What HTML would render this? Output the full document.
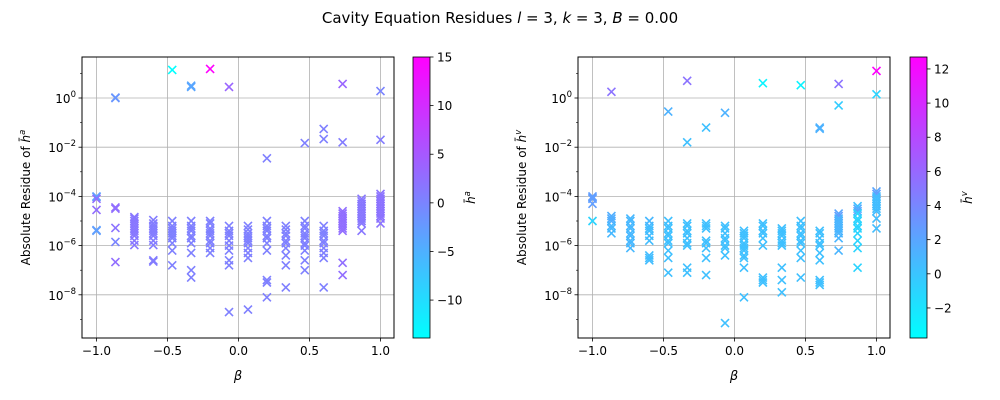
<!DOCTYPE html>
<html><head><meta charset="utf-8">
<style>
html,body{margin:0;padding:0;background:#fff;}
svg{display:block;font-family:"DejaVu Sans","Liberation Sans",sans-serif;}
</style></head>
<body>
<svg id="fig" width="1000" height="400" viewBox="0 0 1000 400">
<text x="500" y="23" text-anchor="middle" font-size="15">Cavity Equation Residues <tspan font-style="italic">l</tspan> = 3, <tspan font-style="italic">k</tspan> = 3, <tspan font-style="italic">B</tspan> = 0.00</text>
</svg>
<script>
const betaValues = [-1,-0.8667,-0.7333,-0.6,-0.4667,-0.3333,-0.2,-0.0667,0.0667,0.2,0.3333,0.4667,0.6,0.7333,0.8667,1];

const leftCols = [
 [-4.0,-4.02,-4.1,-4.55,-5.37,-5.4],
 [0.0,0.02,-4.45,-4.5,-5.28,-5.85,-6.67],
 [-4.84,-4.9,-5.0,-5.1,-5.2,-5.3,-5.4,-5.5,-5.6,-5.8,-5.98],
 [-4.96,-5.1,-5.2,-5.3,-5.4,-5.5,-5.6,-5.8,-5.98,-6.6,-6.65],
 [1.14,-5.0,-5.2,-5.3,-5.4,-5.5,-5.6,-5.7,-5.9,-6.2,-6.8],
 [0.45,0.5,-5.0,-5.2,-5.3,-5.4,-5.6,-5.7,-5.9,-6.3,-7.0,-7.3],
 [1.18,-5.0,-5.1,-5.3,-5.4,-5.5,-5.6,-5.8,-5.9,-6.1,-6.3],
 [0.45,-5.2,-5.4,-5.5,-5.6,-5.8,-6.0,-6.2,-6.6,-6.8,-8.7],
 [-5.2,-5.35,-5.5,-5.6,-5.7,-5.8,-5.9,-6.1,-6.3,-6.5,-8.6],
 [-2.45,-5.0,-5.2,-5.3,-5.4,-5.6,-5.7,-5.9,-6.2,-7.4,-7.5,-8.1],
 [-5.2,-5.35,-5.5,-5.6,-5.8,-5.9,-6.1,-6.4,-6.8,-7.7],
 [-1.83,-5.0,-5.2,-5.3,-5.5,-5.6,-5.7,-5.9,-6.0,-6.2,-6.6,-7.0],
 [-1.26,-1.67,-5.2,-5.4,-5.5,-5.6,-5.8,-5.9,-6.1,-6.3,-6.5,-7.7],
 [0.57,-1.8,-4.6,-4.7,-4.8,-4.9,-5.0,-5.1,-5.2,-5.3,-5.4,-6.7,-7.2],
 [-4.1,-4.2,-4.3,-4.4,-4.5,-4.6,-4.7,-4.8,-4.9,-5.0,-5.1,-5.4],
 [0.28,-1.7,-3.9,-4.0,-4.1,-4.2,-4.3,-4.4,-4.5,-4.6,-4.7,-4.8,-4.9,-5.1]
];
const leftColours = [
 [-3,-3,2.5,2.5,-3,-3],[-2,-2,2.5,2.5,2,0,2.5],[1.5],[1],[-13.9,0.5],[-3.8,-3.8,0.5],[15,0.5],[3.5,0.5],[0.5],[0.5],[0.5],[0.5],[0.5],[3.5,1,2.5],[1.5],[0,1,2]
];

const rightCols = [
 [-4.0,-4.05,-4.1,-4.3,-5.0],
 [0.25,-4.8,-4.9,-5.0,-5.2,-5.3,-5.5],
 [-4.9,-5.0,-5.2,-5.3,-5.5,-5.6,-5.8,-5.9,-6.1],
 [-5.0,-5.2,-5.3,-5.4,-5.6,-5.8,-6.4,-6.5,-6.6],
 [-0.55,-5.0,-5.2,-5.3,-5.5,-5.6,-5.8,-5.9,-6.2,-6.5,-7.1],
 [0.7,-1.8,-5.1,-5.2,-5.4,-5.5,-5.7,-5.9,-6.0,-6.9,-7.1],
 [-1.2,-5.1,-5.2,-5.3,-5.8,-5.9,-6.1,-6.5,-7.2],
 [-0.6,-5.2,-5.3,-5.5,-5.7,-5.8,-6.0,-6.1,-6.4,-9.15],
 [-5.4,-5.5,-5.6,-5.7,-5.9,-6.0,-6.1,-6.2,-6.4,-6.5,-6.9,-8.1],
 [0.6,-5.1,-5.2,-5.4,-5.5,-5.7,-6.0,-7.3,-7.4,-7.5],
 [-5.3,-5.4,-5.5,-5.6,-5.8,-5.9,-6.0,-6.9,-7.4,-7.9],
 [0.52,-5.0,-5.2,-5.3,-5.5,-5.6,-5.8,-5.9,-6.2,-6.5,-7.3],
 [-1.2,-1.25,-5.4,-5.5,-5.7,-5.9,-6.0,-6.3,-6.6,-7.4,-7.5,-7.6],
 [0.57,-0.3,-4.7,-4.8,-4.9,-5.0,-5.1,-5.2,-5.3,-5.4,-5.5,-5.7,-6.2],
 [-4.4,-4.5,-4.6,-4.7,-4.9,-5.0,-5.2,-5.3,-5.5,-5.8,-6.1,-6.9],
 [1.1,0.15,-3.8,-3.9,-4.0,-4.1,-4.2,-4.3,-4.4,-4.5,-4.6,-4.9,-5.3]
];
const rightColours = [
 [2.5,2.5,2.5,2.5,-1],[5.3,1.5,1.5,1.5,0.8],[0.8],[0.8,0.8,0.5],[1.2,0.3],[5.3,0.3,0.3],[0.3],[1.2,0.3],[0.3],[-3,0.3],[0.3],[-3,0.3],[1.2,1.2,0.3],[5.3,-0.5,2,2.5,1],[0.3,1.5,2,-1],[12.7,-1,2,2.5,0.5]
];

const yTicks = [0,-2,-4,-6,-8];
const xTicks = [-1.0,-0.5,0.0,0.5,1.0];
const leftCbTicks = [15,10,5,0,-5,-10];
const rightCbTicks = [12,10,8,6,4,2,0,-2];

const NS = "http://www.w3.org/2000/svg";
const svg = document.getElementById('fig');
function el(tag, attrs, parent){
  const e = document.createElementNS(NS, tag);
  for (const k in attrs) e.setAttribute(k, attrs[k]);
  (parent||svg).appendChild(e);
  return e;
}
function cool(v, vmin, vmax){
  let t = (v - vmin)/(vmax - vmin); t = Math.max(0, Math.min(1, t));
  return `rgb(${Math.round(255*t)},${Math.round(255*(1-t))},255)`;
}

function panel(px, cols, colours, vmin, vmax, cbTicks, cbx, label, side){
  const top = 57, bot = 338, left = px, right = px + 312;
  const xs = b => left + 14.5 + (b + 1) / 2 * 284;
  const ys = l => 98 + (0 - l) * 24.6;
  const g = el('g', {});
  
  
  xTicks.forEach(t => {
    const gl = el('line', {x1: xs(t), x2: xs(t), y1: top, y2: bot, stroke: '#b0b0b0', 'stroke-width': 0.8}, g);
    
    
    el('line', {x1: xs(t), x2: xs(t), y1: bot, y2: bot + 3.5, stroke: '#000', 'stroke-width': 0.8}, g);
    const tx = el('text', {x: xs(t), y: bot + 17, 'text-anchor': 'middle', 'font-size': 12}, g);
    tx.textContent = t.toFixed(1).replace('-', '\u2212');
    
    
  });
  yTicks.forEach(t => {
    const gl = el('line', {x1: left, x2: right, y1: ys(t), y2: ys(t), stroke: '#b0b0b0', 'stroke-width': 0.8}, g);
    
    
    el('line', {x1: left - 3.5, x2: left, y1: ys(t), y2: ys(t), stroke: '#000', 'stroke-width': 0.8}, g);
    const tx = el('text', {x: left - 6, y: ys(t) + 5, 'text-anchor': 'end', 'font-size': 12}, g);
    tx.innerHTML = '10<tspan dy="-6" font-size="8.5">' + (t === 0 ? '0' : '\u2212' + (-t)) + '</tspan>';
    
    
  });
  for (let d = -10; d <= 1; d++) {
    const y = ys(d);
    if (y > top && y < bot && d % 2 !== 0) el('line', {x1: left - 2, x2: left, y1: y, y2: y, stroke: '#000', 'stroke-width': 0.6}, g);
  }
  cols.forEach((col, i) => {
    col.forEach((l, j) => {
      const c = colours[i][Math.min(j, colours[i].length - 1)];
      const x = xs(betaValues[i]), y = ys(l), s = 4;
      const p = el('path', {d: `M${x-s},${y-s}L${x+s},${y+s}M${x-s},${y+s}L${x+s},${y-s}`, stroke: cool(c, vmin, vmax), 'stroke-width': 1.6, fill: 'none'}, g);
      
      
    });
  });
  const fr = el('rect', {x: left, y: top, width: 312, height: bot - top, fill: 'none', stroke: '#000', 'stroke-width': 1}, g);
  
  
  const xl = el('text', {x: (left + right) / 2, y: 380, 'text-anchor': 'middle', 'font-size': 13, 'font-style': 'italic'}, g);
  xl.textContent = 'β';
  
  
  const yl = el('text', {x: 0, y: 0, 'text-anchor': 'middle', 'font-size': 12, transform: `translate(${left - 52},${(top + bot) / 2}) rotate(-90)`}, g);
  yl.innerHTML = 'Absolute Residue of <tspan font-style="italic">h̄</tspan><tspan dy="-5" font-size="8.5" font-style="italic">' + label + '</tspan>';
  
  
  const gid = 'grad' + side;
  const defs = el('defs', {}, g);
  const lg = el('linearGradient', {id: gid, x1: 0, y1: 1, x2: 0, y2: 0}, defs);
  el('stop', {offset: 0, 'stop-color': '#00ffff'}, lg);
  el('stop', {offset: 1, 'stop-color': '#ff00ff'}, lg);
  const cb = el('rect', {x: cbx, y: top, width: 17, height: bot - top, fill: `url(#${gid})`, stroke: '#000', 'stroke-width': 0.8}, g);
  
  
  const cy = v => bot - (v - vmin) / (vmax - vmin) * (bot - top);
  cbTicks.forEach(t => {
    el('line', {x1: cbx + 17, x2: cbx + 20.5, y1: cy(t), y2: cy(t), stroke: '#000', 'stroke-width': 0.8}, g);
    const tx = el('text', {x: cbx + 24, y: cy(t) + 4.5, 'font-size': 12}, g);
    tx.textContent = String(t).replace('-', '\u2212');
    
    
  });
  const cl = el('text', {x: 0, y: 0, 'text-anchor': 'middle', 'font-size': 12, transform: `translate(${cbx + 62},${(top + bot) / 2}) rotate(-90)`}, g);
  cl.innerHTML = '<tspan font-style="italic">h̄</tspan><tspan dy="-5" font-size="8.5" font-style="italic">' + label + '</tspan>';
  
  
}
panel(82, leftCols, leftColours, -13.9, 15, leftCbTicks, 413, 'a', 'left');
panel(578, rightCols, rightColours, -3.76, 12.7, rightCbTicks, 910, 'v', 'right');
</script>
</body></html>
